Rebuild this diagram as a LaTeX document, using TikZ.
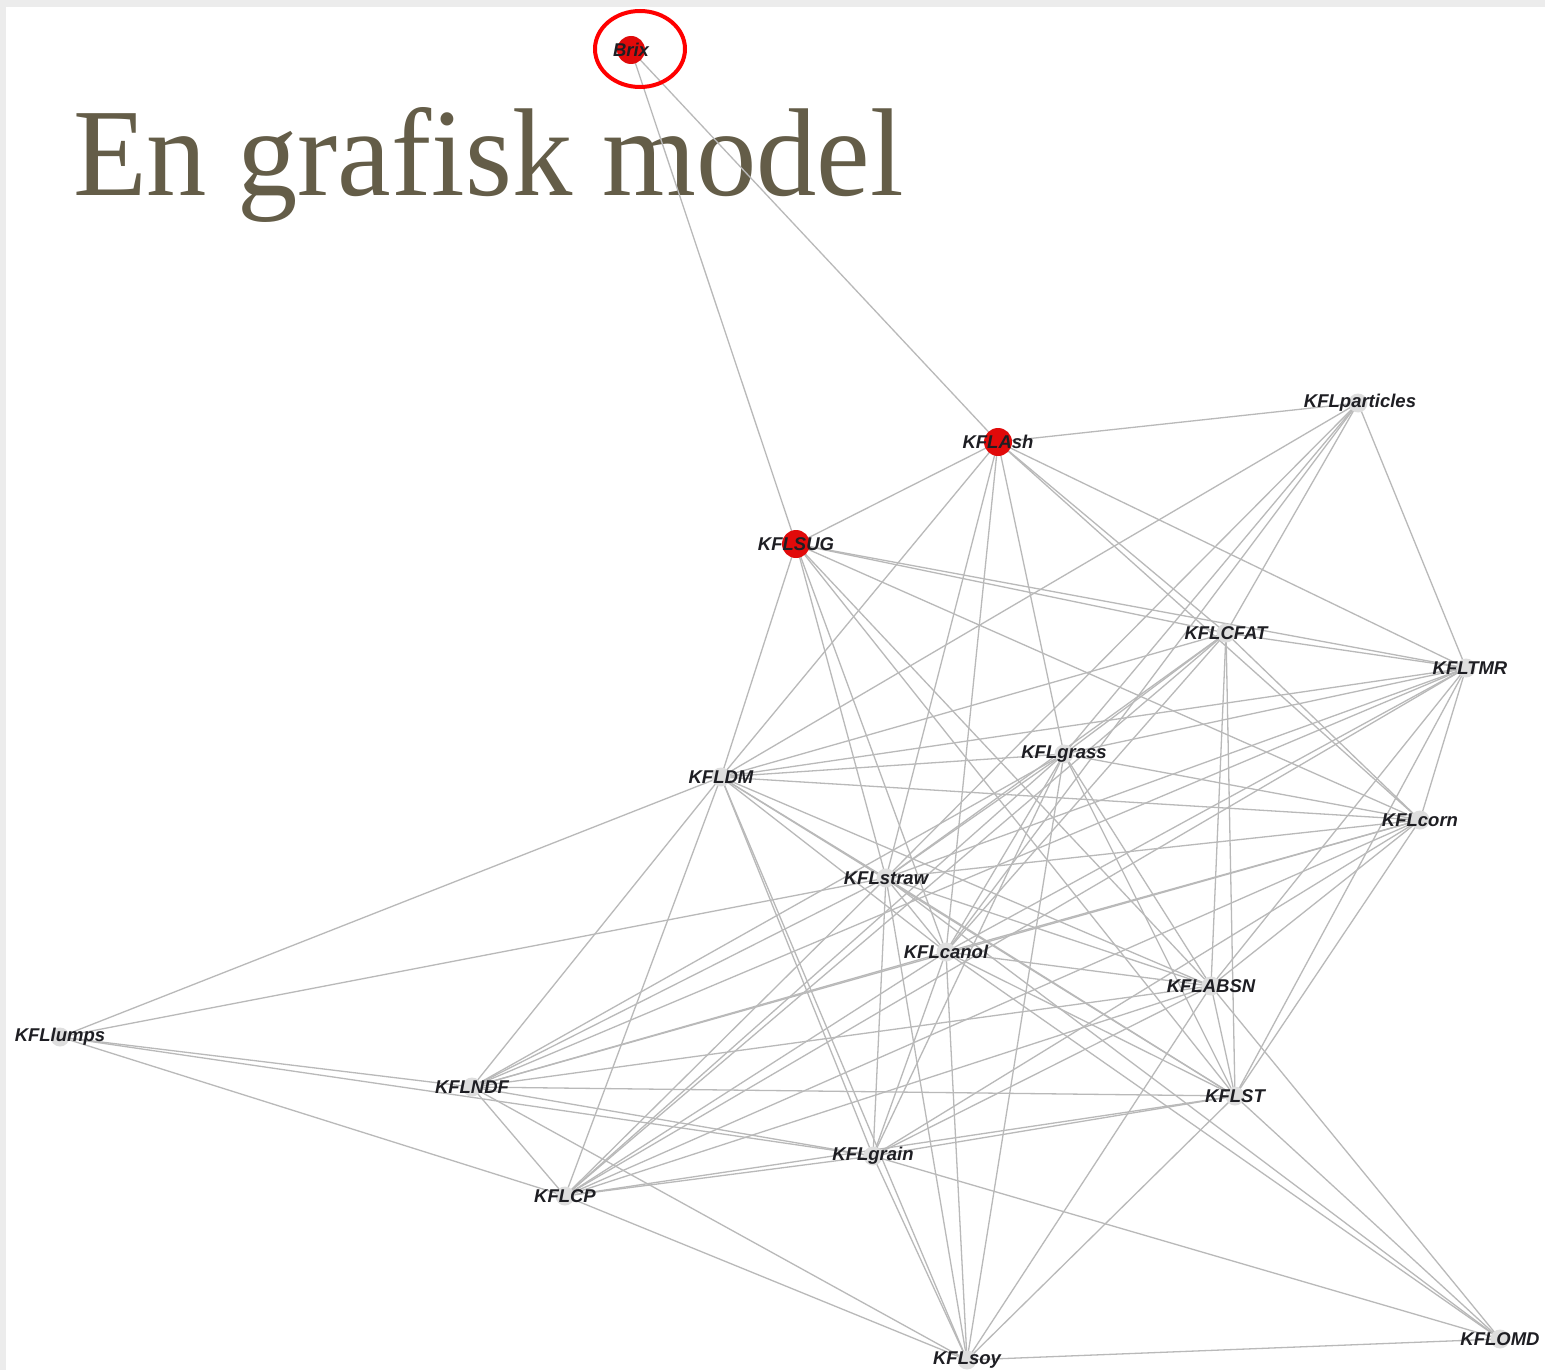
\documentclass[tikz,border=0pt]{standalone}
\usepackage{fontspec}
\setmainfont{Liberation Serif}
\newfontfamily\lblfont{Liberation Sans}
\definecolor{edgegray}{RGB}{185,185,185}
\definecolor{dotgray}{RGB}{222,222,222}
\definecolor{nodered}{RGB}{225,10,10}
\definecolor{lblcol}{RGB}{30,30,35}
\definecolor{titlecol}{RGB}{100,93,72}
\definecolor{framegray}{RGB}{236,236,236}
\begin{document}
\begin{tikzpicture}[x=1pt,y=-1pt,
  edge/.style={draw=edgegray, line width=1.3pt},
  dotnode/.style={circle, fill=dotgray, inner sep=0pt, minimum size=19pt},
  reddot/.style={circle, fill=nodered, inner sep=0pt, minimum size=28pt},
  lbl/.style={font=\lblfont\bfseries\itshape\fontsize{18.5}{19}\selectfont, text=lblcol, inner sep=0pt},
  titletext/.style={font=\fontsize{125}{125}\selectfont, text=titlecol, inner sep=0pt, anchor=base west},
  ring/.style={draw=red, line width=4pt}]
\useasboundingbox (0,0) rectangle (1545,1370);
\fill[white] (0,0) rectangle (1545,1370);
\fill[framegray] (0,0) rectangle (6,1370);
\fill[framegray] (0,0) rectangle (1545,7);

% title
\node[titletext] (title) at (73,195) {\scalebox{0.965}[1]{En grafisk model}};

% node positions
\coordinate (brix)  at (631,50);
\coordinate (ash)   at (998,442);
\coordinate (sug)   at (796,544);
\coordinate (part)  at (1358,403);
\coordinate (cfat)  at (1226,633);
\coordinate (tmr)   at (1466,668);
\coordinate (grass) at (1064,754);
\coordinate (dm)    at (721,777);
\coordinate (corn)  at (1420,820);
\coordinate (straw) at (886,878);
\coordinate (canol) at (946,952);
\coordinate (absn)  at (1211,986);
\coordinate (lumps) at (60,1037);
\coordinate (ndf)   at (472,1087);
\coordinate (st)    at (1235,1096);
\coordinate (grain) at (873,1156);
\coordinate (cp)    at (565,1196);
\coordinate (soy)   at (967,1360);
\coordinate (omd)   at (1500,1339);

% edges
\foreach \a/\b in {
  brix/sug, brix/ash,
  ash/sug, ash/part, ash/dm, ash/straw, ash/canol, ash/grass, ash/cfat, ash/corn, ash/tmr,
  sug/cfat, sug/tmr, sug/corn, sug/dm, sug/straw, sug/canol, sug/absn, sug/st,
  part/dm, part/straw, part/canol, part/grass, part/cfat, part/tmr,
  cfat/tmr, cfat/corn, cfat/absn, cfat/st, cfat/straw, cfat/canol, cfat/grass, cfat/cp, cfat/dm,
  tmr/corn, tmr/dm, tmr/grass, tmr/straw, tmr/canol, tmr/cp, tmr/absn, tmr/st, tmr/ndf,
  grass/dm, grass/straw, grass/canol, grass/cp, grass/grain, grass/ndf, grass/absn, grass/st, grass/corn, grass/soy,
  dm/corn, dm/straw, dm/canol, dm/lumps, dm/ndf, dm/cp, dm/grain, dm/absn, dm/st, dm/soy,
  corn/straw, corn/canol, corn/ndf, corn/absn, corn/st, corn/grain, corn/cp,
  straw/canol, straw/lumps, straw/ndf, straw/cp, straw/grain, straw/absn, straw/st, straw/soy, straw/omd,
  canol/ndf, canol/cp, canol/grain, canol/soy, canol/absn, canol/st, canol/omd,
  absn/ndf, absn/cp, absn/grain, absn/st, absn/omd, absn/soy,
  lumps/ndf, lumps/grain, lumps/cp,
  ndf/cp, ndf/grain, ndf/st, ndf/soy,
  st/grain, st/cp, st/omd, st/soy,
  grain/cp, grain/soy, grain/omd,
  cp/soy, soy/omd}
  \draw[edge] (\a) -- (\b);

% dots
\foreach \n in {part,cfat,tmr,grass,dm,corn,straw,canol,absn,lumps,ndf,st,grain,cp,soy,omd}
  \node[dotnode] (\n-dot) at (\n) {};
\foreach \n in {brix,ash,sug}
  \node[reddot] (\n-dot) at (\n) {};

% labels
\node[lbl] (brix-l)  at (brix)  {Brix};
\node[lbl] (ash-l)   at (ash)   {KFLAsh};
\node[lbl] (sug-l)   at (sug)   {KFLSUG};
\node[lbl] (part-l)  at ([xshift=2pt]part)  {KFLparticles};
\node[lbl] (cfat-l)  at (cfat)  {KFLCFAT};
\node[lbl] (tmr-l)   at ([xshift=4pt]tmr)   {KFLTMR};
\node[lbl] (grass-l) at (grass) {KFLgrass};
\node[lbl] (dm-l)    at (dm)    {KFLDM};
\node[lbl] (corn-l)  at (corn)  {KFLcorn};
\node[lbl] (straw-l) at (straw) {KFLstraw};
\node[lbl] (canol-l) at (canol) {KFLcanol};
\node[lbl] (absn-l)  at (absn)  {KFLABSN};
\node[lbl] (lumps-l) at (lumps) {KFLlumps};
\node[lbl] (ndf-l)   at (ndf)   {KFLNDF};
\node[lbl] (st-l)    at (st)    {KFLST};
\node[lbl] (grain-l) at (grain) {KFLgrain};
\node[lbl] (cp-l)    at (cp)    {KFLCP};
\node[lbl] (soy-l)   at (soy)   {KFLsoy};
\node[lbl] (omd-l)   at (omd)   {KFLOMD};

% red ring around Brix
\draw[ring] (640,49) ellipse [x radius=45, y radius=38];
\end{tikzpicture}
\end{document}
